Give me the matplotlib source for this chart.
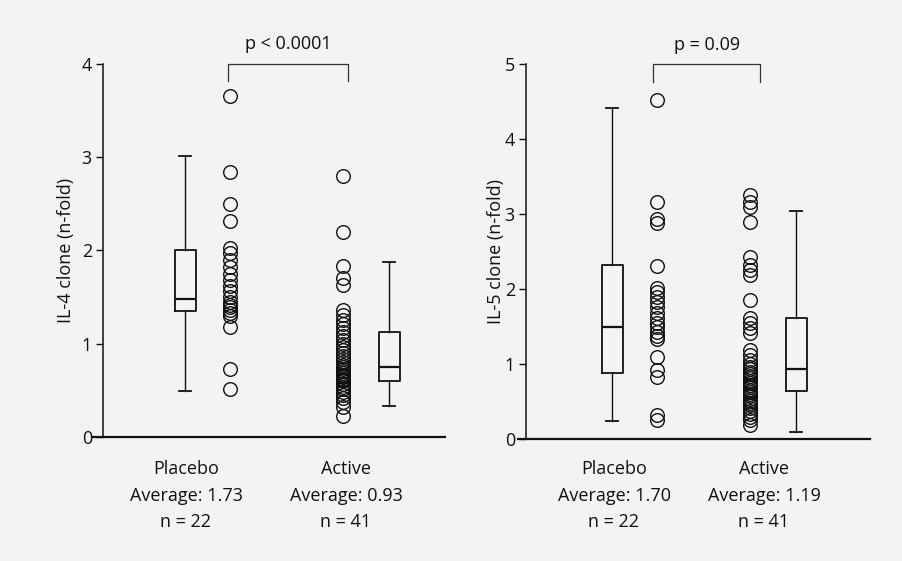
import matplotlib
matplotlib.use("Agg")
import matplotlib.pyplot as plt
import numpy as np

plt.rcParams['font.family'] = ['Open Sans', 'DejaVu Sans']
plt.rcParams['font.size'] = 13

groups = ["Placebo", "Active"]

# IL-4 panel (left)
il4_placebo = [3.66, 2.84, 2.50, 2.32, 2.03, 1.97, 1.90, 1.82, 1.75, 1.68, 1.62,
               1.57, 1.50, 1.45, 1.42, 1.39, 1.36, 1.33, 1.30, 1.18, 0.73, 0.51]
il4_active = [2.80, 2.20, 1.83, 1.71, 1.63, 1.36, 1.31, 1.26, 1.21, 1.17, 1.13,
              1.08, 1.04, 1.00, 0.96, 0.93, 0.90, 0.87, 0.84, 0.80, 0.77,
              0.75, 0.73, 0.71, 0.69, 0.67, 0.66, 0.65, 0.64, 0.62, 0.61,
              0.60, 0.57, 0.54, 0.51, 0.48, 0.45, 0.42, 0.38, 0.32, 0.22]
# box stats: whislo, q1, med, q3, whishi
il4_box_placebo = [0.49, 1.35, 1.48, 2.00, 3.01]
il4_box_active = [0.33, 0.60, 0.75, 1.13, 1.88]
il4_avg = ["1.73", "0.93"]
il4_n = [22, 41]

# IL-5 panel (right)
il5_placebo = [4.52, 3.16, 2.94, 2.88, 2.31, 2.02, 1.96, 1.90, 1.83, 1.76, 1.68,
               1.62, 1.55, 1.49, 1.43, 1.38, 1.34, 1.10, 0.92, 0.83, 0.32, 0.25]
il5_active = [3.25, 3.16, 3.10, 2.90, 2.43, 2.32, 2.25, 2.19, 1.85, 1.61, 1.55,
              1.48, 1.41, 1.19, 1.12, 1.05, 1.00, 0.96, 0.93, 0.90, 0.87,
              0.84, 0.81, 0.78, 0.75, 0.72, 0.69, 0.66, 0.63, 0.60, 0.57,
              0.54, 0.51, 0.48, 0.45, 0.42, 0.38, 0.34, 0.30, 0.25, 0.19]
il5_box_placebo = [0.24, 0.88, 1.49, 2.32, 4.42]
il5_box_active = [0.10, 0.64, 0.93, 1.61, 3.04]
il5_avg = ["1.70", "1.19"]
il5_n = [22, 41]

W, H = 902, 561
BG = '#f3f3f3'
INK = '#111111'
FS = 13

fig = plt.figure(figsize=(W / 100, H / 100), dpi=100, facecolor=BG)


def box_stats(s):
    return dict(whislo=s[0], q1=s[1], med=s[2], q3=s[3], whishi=s[4], fliers=[])


def panel(rect, xlim, yaxis_x, ytop, ylabel, pos, placebo, active, bp, ba,
          bracket, label_x):
    ax = fig.add_axes(rect)
    ax.set_facecolor('none')

    bpos_p, cpos_p, cpos_a, bpos_a = pos
    ax.bxp([box_stats(bp), box_stats(ba)], positions=[bpos_p, bpos_a],
           widths=21, capwidths=12, showfliers=False,
           boxprops=dict(color=INK, linewidth=1.3),
           medianprops=dict(color=INK, linewidth=1.6),
           whiskerprops=dict(color=INK, linewidth=1.0),
           capprops=dict(color=INK, linewidth=1.3))
    ax.plot([cpos_p] * len(placebo), placebo, 'o', ms=9.8, mfc='none',
            mec=INK, mew=1.0, clip_on=False)
    ax.plot([cpos_a] * len(active), active, 'o', ms=9.8, mfc='none',
            mec=INK, mew=1.0, clip_on=False)

    bx0, bx1, by = bracket
    ax.plot([bx0, bx0, bx1, bx1], [by, ytop, ytop, by], color='#333333',
            lw=0.9, clip_on=False)

    ax.set_xlim(*xlim)
    ax.set_ylim(0, ytop)
    for s in ['top', 'right']:
        ax.spines[s].set_visible(False)
    ax.spines['left'].set_position(('data', yaxis_x))
    ax.spines['left'].set_linewidth(1.1)
    ax.spines['bottom'].set_linewidth(1.6)
    ax.spines['left'].set_color(INK)
    ax.spines['bottom'].set_color(INK)
    ax.set_xticks([])
    ax.set_yticks(range(0, ytop + 1))
    ax.tick_params(axis='y', length=5, width=1.0, pad=3, colors=INK, labelsize=FS)
    ax.set_ylabel(ylabel, fontsize=FS, color=INK)
    ax.yaxis.set_label_coords(label_x, 0.5)
    return ax


ax1 = panel([93 / W, 1 - 437 / H, 352 / W, 373 / H], (93, 445), 103, 4,
            "IL-4 clone (n-fold)", (185, 230, 343, 389),
            il4_placebo, il4_active, il4_box_placebo, il4_box_active,
            (228, 348, 3.82), -0.05)
ax2 = panel([518 / W, 1 - 439 / H, 352 / W, 375 / H], (518, 870), 526, 5,
            "IL-5 clone (n-fold)", (612, 657, 750, 796),
            il5_placebo, il5_active, il5_box_placebo, il5_box_active,
            (653, 760, 4.76), -0.036)

# p-values
fig.text(288 / W, 1 - 44 / H, "p < 0.0001", ha='center', va='center', fontsize=FS, color=INK)
fig.text(707 / W, 1 - 45 / H, "p = 0.09", ha='center', va='center', fontsize=FS, color=INK)

# group labels under the axes
for xs, avg, n in [((186, 346), il4_avg, il4_n), ((614, 764), il5_avg, il5_n)]:
    for x, g, a, k in zip(xs, groups, avg, n):
        fig.text(x / W, 1 - 469 / H, g, ha='center', va='center', fontsize=FS, color=INK)
        fig.text(x / W, 1 - 496 / H, "Average: " + a, ha='center', va='center', fontsize=FS, color=INK)
        fig.text(x / W, 1 - 522 / H, "n = %d" % k, ha='center', va='center', fontsize=FS, color=INK)

fig.savefig("out.png", dpi=100, facecolor=BG)
